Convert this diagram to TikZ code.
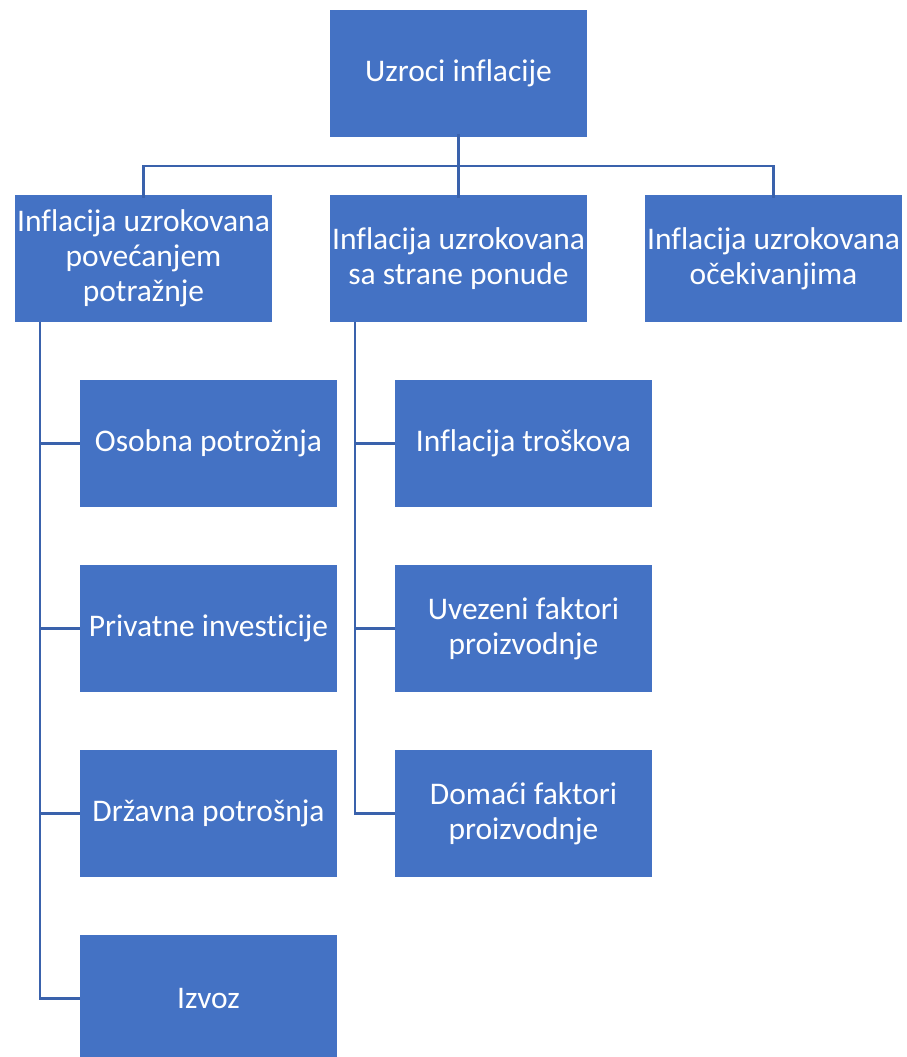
\documentclass[tikz,border=0pt]{standalone}
\usepackage{fontspec}
\setmainfont{Carlito}[Ligatures=NoCommon]
\definecolor{boxblue}{HTML}{4472C4}
\definecolor{lineblue}{HTML}{3A62AC}
\begin{document}
\begin{tikzpicture}[x=1pt,y=-1pt,
  box/.style={fill=boxblue,draw=none,minimum width=257pt,minimum height=127pt,inner sep=0pt,
    text=white,align=center,font=\fontsize{31.5}{35}\selectfont},
  conn/.style={draw=lineblue,line width=2.2pt}]
\useasboundingbox (0,0) rectangle (906,1057);
\node[box] (top) at (458.5,73.5) {Uzroci inflacije};
\node[box] (dem) at (143.5,258.5) {Inflacija uzrokovana\\povećanjem\\potražnje};
\node[box] (sup) at (458.5,258.5) {Inflacija uzrokovana\\sa strane ponude};
\node[box] (exp) at (773.5,258.5) {Inflacija uzrokovana\\očekivanjima};
\node[box] (d1) at (208.5,443.5) {Osobna potrožnja};
\node[box] (d2) at (208.5,628.5) {Privatne investicije};
\node[box] (d3) at (208.5,813.5) {Državna potrošnja};
\node[box] (d4) at (208.5,998.5) {Izvoz};
\node[box] (s1) at (523.5,443.5) {Inflacija troškova};
\node[box] (s2) at (523.5,628.5) {Uvezeni faktori\\proizvodnje};
\node[box] (s3) at (523.5,813.5) {Domaći faktori\\proizvodnje};
\coordinate (j) at (458.5,166);
\coordinate (dl) at (40,322);
\coordinate (sl) at (355,322);
\draw[conn] ([yshift=3pt]top.south) -- (j);
\draw[conn] (j) -| ([yshift=-3pt]dem.north);
\draw[conn] (j) -- ([yshift=-3pt]sup.north);
\draw[conn] (j) -| ([yshift=-3pt]exp.north);
\draw[conn] (dl) |- (d4.west);
\foreach \n in {d1,d2,d3} \draw[conn] (dl |- \n.west) -- (\n.west);
\draw[conn] (sl) |- (s3.west);
\foreach \n in {s1,s2} \draw[conn] (sl |- \n.west) -- (\n.west);
\end{tikzpicture}
\end{document}
